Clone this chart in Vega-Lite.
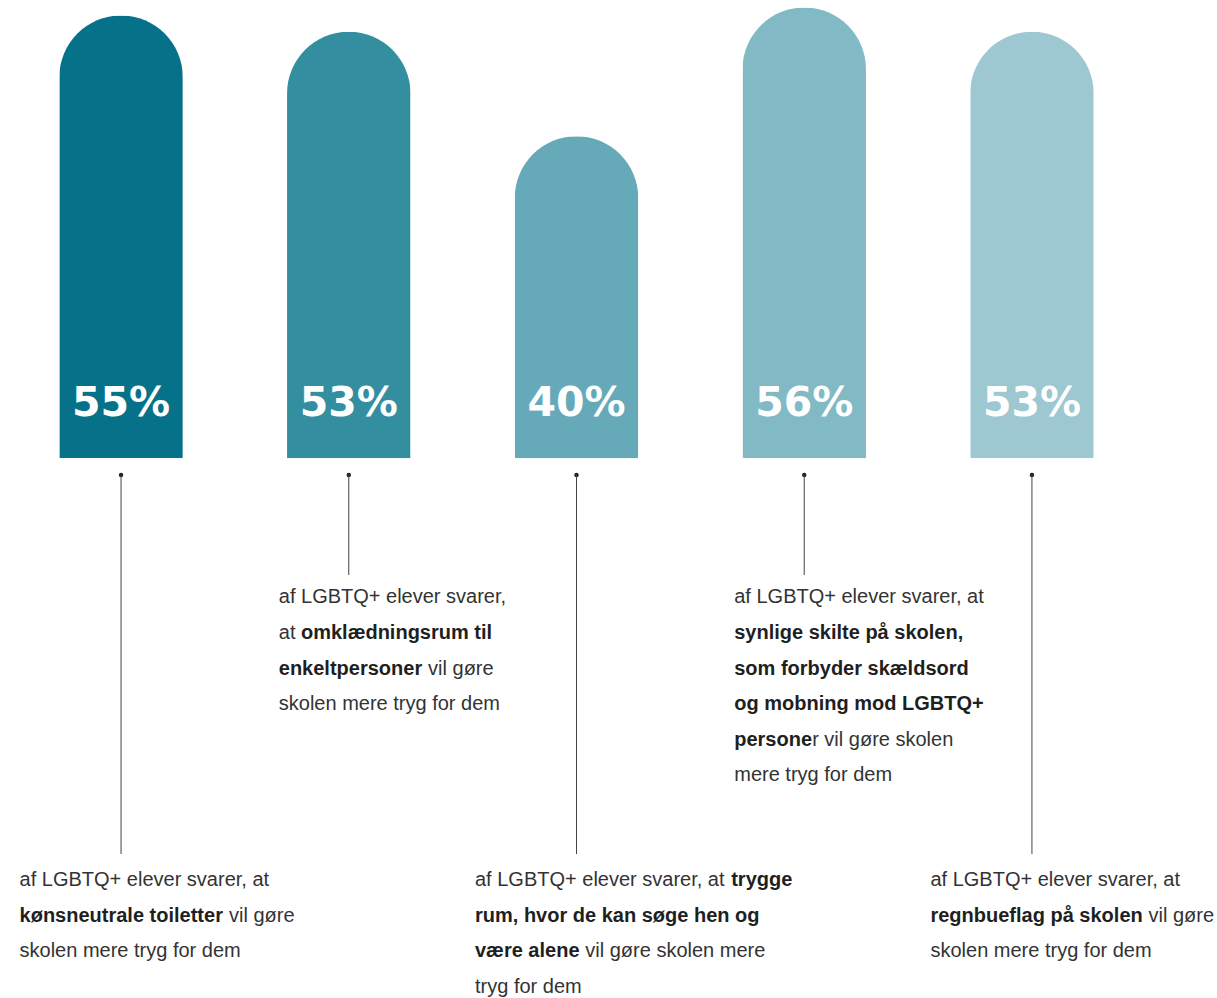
{
  "$schema": "https://vega.github.io/schema/vega-lite/v6.json",
  "width": 1153,
  "height": 998,
  "autosize": {"type": "none"},
  "padding": {"left": 0, "top": 0, "right": 64, "bottom": 0},
  "background": "#ffffff",
  "config": {"view": {"stroke": null}, "axis": {"disable": true}},
  "datasets": {
    "bars": [
      {"cat": "Kønsneutrale toiletter", "value": 0.55},
      {"cat": "Omklædningsrum", "value": 0.53},
      {"cat": "Trygge rum", "value": 0.40},
      {"cat": "Synlige skilte", "value": 0.56},
      {"cat": "Regnbueflag", "value": 0.53}
    ],
    "lines": [
      {"cat": "Kønsneutrale toiletter", "line": 1, "seg": 0, "emph": false, "text": "af LGBTQ+ elever svarer, at"},
      {"cat": "Kønsneutrale toiletter", "line": 2, "seg": 0, "emph": true, "text": "kønsneutrale toiletter"},
      {"cat": "Kønsneutrale toiletter", "line": 2, "seg": 1, "emph": false, "text": "vil gøre"},
      {"cat": "Kønsneutrale toiletter", "line": 3, "seg": 0, "emph": false, "text": "skolen mere tryg for dem"},
      {"cat": "Omklædningsrum", "line": 1, "seg": 0, "emph": false, "text": "af LGBTQ+ elever svarer,"},
      {"cat": "Omklædningsrum", "line": 2, "seg": 0, "emph": false, "text": "at"},
      {"cat": "Omklædningsrum", "line": 2, "seg": 1, "emph": true, "text": "omklædningsrum til"},
      {"cat": "Omklædningsrum", "line": 3, "seg": 0, "emph": true, "text": "enkeltpersoner"},
      {"cat": "Omklædningsrum", "line": 3, "seg": 1, "emph": false, "text": "vil gøre"},
      {"cat": "Omklædningsrum", "line": 4, "seg": 0, "emph": false, "text": "skolen mere tryg for dem"},
      {"cat": "Trygge rum", "line": 1, "seg": 0, "emph": false, "text": "af LGBTQ+ elever svarer, at"},
      {"cat": "Trygge rum", "line": 1, "seg": 1, "emph": true, "text": "trygge"},
      {"cat": "Trygge rum", "line": 2, "seg": 0, "emph": true, "text": "rum, hvor de kan søge hen og"},
      {"cat": "Trygge rum", "line": 3, "seg": 0, "emph": true, "text": "være alene"},
      {"cat": "Trygge rum", "line": 3, "seg": 1, "emph": false, "text": "vil gøre skolen mere"},
      {"cat": "Trygge rum", "line": 4, "seg": 0, "emph": false, "text": "tryg for dem"},
      {"cat": "Synlige skilte", "line": 1, "seg": 0, "emph": false, "text": "af LGBTQ+ elever svarer, at"},
      {"cat": "Synlige skilte", "line": 2, "seg": 0, "emph": true, "text": "synlige skilte på skolen,"},
      {"cat": "Synlige skilte", "line": 3, "seg": 0, "emph": true, "text": "som forbyder skældsord"},
      {"cat": "Synlige skilte", "line": 4, "seg": 0, "emph": true, "text": "og mobning mod LGBTQ+"},
      {"cat": "Synlige skilte", "line": 5, "seg": 0, "emph": true, "text": "persone"},
      {"cat": "Synlige skilte", "line": 5, "seg": 1, "emph": false, "text": "r vil gøre skolen"},
      {"cat": "Synlige skilte", "line": 6, "seg": 0, "emph": false, "text": "mere tryg for dem"},
      {"cat": "Regnbueflag", "line": 1, "seg": 0, "emph": false, "text": "af LGBTQ+ elever svarer, at"},
      {"cat": "Regnbueflag", "line": 2, "seg": 0, "emph": true, "text": "regnbueflag på skolen"},
      {"cat": "Regnbueflag", "line": 2, "seg": 1, "emph": false, "text": "vil gøre"},
      {"cat": "Regnbueflag", "line": 3, "seg": 0, "emph": false, "text": "skolen mere tryg for dem"}
    ]
  },
  "layer": [
    {
      "data": {"name": "bars"},
      "layer": [
        {
          "mark": {"type": "bar", "cornerRadiusTopLeft": 61.75, "cornerRadiusTopRight": 61.75},
          "encoding": {
            "x": {"field": "cat", "type": "nominal", "axis": null, "scale": {"domain": ["Kønsneutrale toiletter", "Omklædningsrum", "Trygge rum", "Synlige skilte", "Regnbueflag"], "paddingInner": 0.4577, "paddingOuter": 0.2604}},
            "y": {"field": "value", "type": "quantitative", "axis": null, "scale": {"domain": [0, 0.5693], "range": [458.3, 0], "nice": false, "zero": true}},
            "color": {"field": "cat", "type": "nominal", "legend": null, "scale": {"domain": ["Kønsneutrale toiletter", "Omklædningsrum", "Trygge rum", "Synlige skilte", "Regnbueflag"], "range": ["#06728a", "#338e9f", "#66aab9", "#81b9c5", "#9dc8d1"]}}
          }
        },
        {
          "mark": {"type": "text", "font": "DejaVu Sans", "fontWeight": "bold", "fontSize": 41, "color": "#ffffff", "align": "center", "baseline": "alphabetic", "dy": -42.3},
          "encoding": {
            "x": {"field": "cat", "type": "nominal", "axis": null},
            "y": {"datum": 0, "type": "quantitative"},
            "text": {"field": "value", "type": "quantitative", "format": ".0%"}
          }
        },
        {
          "mark": {"type": "point", "filled": true, "color": "#222222", "opacity": 1, "size": 20, "yOffset": 16.7},
          "encoding": {
            "x": {"field": "cat", "type": "nominal", "axis": null},
            "y": {"datum": 0, "type": "quantitative"}
          }
        },
        {
          "transform": [{"filter": "!(datum.cat === 'Omklædningsrum' || datum.cat === 'Synlige skilte')"}],
          "mark": {"type": "rule", "color": "#444444", "strokeWidth": 1, "yOffset": 16.7, "y2Offset": 395.7},
          "encoding": {
            "x": {"field": "cat", "type": "nominal", "axis": null},
            "y": {"datum": 0, "type": "quantitative"},
            "y2": {"datum": 0}
          }
        },
        {
          "transform": [{"filter": "datum.cat === 'Omklædningsrum' || datum.cat === 'Synlige skilte'"}],
          "mark": {"type": "rule", "color": "#444444", "strokeWidth": 1, "yOffset": 16.7, "y2Offset": 116.7},
          "encoding": {
            "x": {"field": "cat", "type": "nominal", "axis": null},
            "y": {"datum": 0, "type": "quantitative"},
            "y2": {"datum": 0}
          }
        }
      ]
    },
    {
      "data": {"name": "lines"},
      "encoding": {
        "x": {"field": "cat", "type": "nominal", "axis": null},
        "y": {"field": "line", "type": "ordinal", "axis": null, "scale": {"type": "point", "domain": [1, 2, 3, 4, 5, 6], "range": [603.3, 781.3], "padding": 0}},
        "text": {"field": "text", "type": "nominal"}
      },
      "layer": [
        {
          "transform": [{"filter": "(datum.cat === 'Omklædningsrum' || datum.cat === 'Synlige skilte') && datum.seg === 0 && !datum.emph"}],
          "mark": {"type": "text", "font": "Liberation Sans", "fontSize": 20, "color": "#333333", "align": "left", "baseline": "alphabetic", "dx": -70}
        },
        {
          "transform": [{"filter": "(datum.cat === 'Omklædningsrum' || datum.cat === 'Synlige skilte') && datum.seg === 0 && datum.emph"}],
          "mark": {"type": "text", "font": "Liberation Sans", "fontWeight": "bold", "fontSize": 20, "color": "#1f1f1f", "align": "left", "baseline": "alphabetic", "dx": -70}
        },
        {
          "transform": [{"filter": "!(datum.cat === 'Omklædningsrum' || datum.cat === 'Synlige skilte') && datum.seg === 0 && !datum.emph"}],
          "mark": {"type": "text", "font": "Liberation Sans", "fontSize": 20, "color": "#333333", "align": "left", "baseline": "alphabetic", "dx": -101.5, "dy": 282.7}
        },
        {
          "transform": [{"filter": "!(datum.cat === 'Omklædningsrum' || datum.cat === 'Synlige skilte') && datum.seg === 0 && datum.emph"}],
          "mark": {"type": "text", "font": "Liberation Sans", "fontWeight": "bold", "fontSize": 20, "color": "#1f1f1f", "align": "left", "baseline": "alphabetic", "dx": -101.5, "dy": 282.7}
        },
        {
          "transform": [{"filter": "datum.cat === 'Kønsneutrale toiletter' && datum.line === 2 && datum.seg === 1"}],
          "mark": {"type": "text", "font": "Liberation Sans", "fontSize": 20, "color": "#333333", "align": "left", "baseline": "alphabetic", "dx": 108, "dy": 282.7}
        },
        {
          "transform": [{"filter": "datum.cat === 'Omklædningsrum' && datum.line === 2 && datum.seg === 1"}],
          "mark": {"type": "text", "font": "Liberation Sans", "fontWeight": "bold", "fontSize": 20, "color": "#1f1f1f", "align": "left", "baseline": "alphabetic", "dx": -47.8}
        },
        {
          "transform": [{"filter": "datum.cat === 'Omklædningsrum' && datum.line === 3 && datum.seg === 1"}],
          "mark": {"type": "text", "font": "Liberation Sans", "fontSize": 20, "color": "#333333", "align": "left", "baseline": "alphabetic", "dx": 79.3}
        },
        {
          "transform": [{"filter": "datum.cat === 'Trygge rum' && datum.line === 1 && datum.seg === 1"}],
          "mark": {"type": "text", "font": "Liberation Sans", "fontWeight": "bold", "fontSize": 20, "color": "#1f1f1f", "align": "left", "baseline": "alphabetic", "dx": 154.7, "dy": 282.7}
        },
        {
          "transform": [{"filter": "datum.cat === 'Trygge rum' && datum.line === 3 && datum.seg === 1"}],
          "mark": {"type": "text", "font": "Liberation Sans", "fontSize": 20, "color": "#333333", "align": "left", "baseline": "alphabetic", "dx": 8.8, "dy": 282.7}
        },
        {
          "transform": [{"filter": "datum.cat === 'Synlige skilte' && datum.line === 5 && datum.seg === 1"}],
          "mark": {"type": "text", "font": "Liberation Sans", "fontSize": 20, "color": "#333333", "align": "left", "baseline": "alphabetic", "dx": 7.9}
        },
        {
          "transform": [{"filter": "datum.cat === 'Regnbueflag' && datum.line === 2 && datum.seg === 1"}],
          "mark": {"type": "text", "font": "Liberation Sans", "fontSize": 20, "color": "#333333", "align": "left", "baseline": "alphabetic", "dx": 116.5, "dy": 282.7}
        }
      ]
    }
  ],
  "resolve": {"scale": {"y": "independent"}}
}
